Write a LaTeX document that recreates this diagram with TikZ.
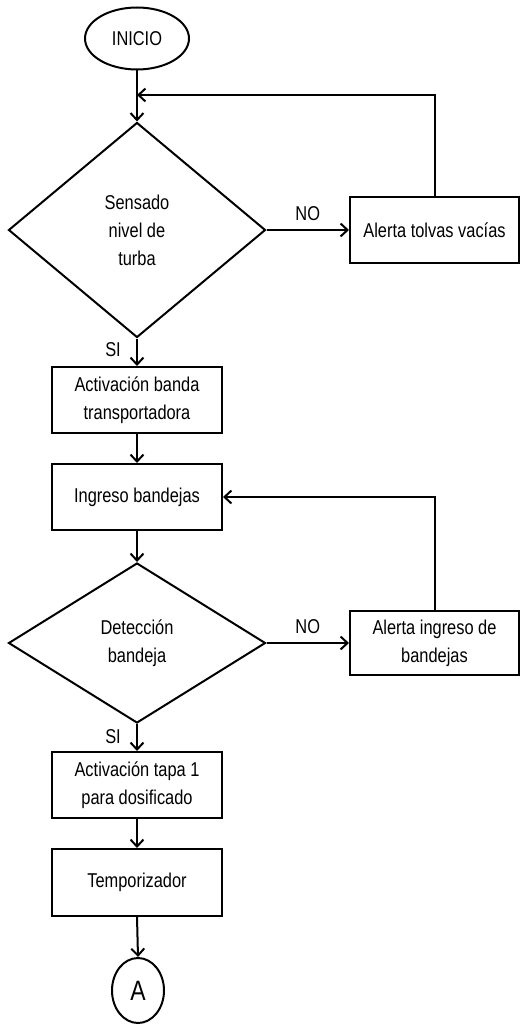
\documentclass[tikz,border=0pt]{standalone}
\usepackage{fontspec}
\setmainfont{Liberation Sans}[FakeStretch=0.82]
\usetikzlibrary{shapes.geometric,arrows.meta}
\begin{document}
\begin{tikzpicture}[x=1pt,y=-1pt,
  every node/.style={font=\fontsize{20}{28}\selectfont, align=center},
  procbox/.style={draw, line width=2pt, minimum width=170pt, minimum height=66pt, inner sep=2pt},
  decision/.style={draw, diamond, line width=2pt, inner sep=0pt},
  term/.style={draw, ellipse, line width=2pt, inner sep=0pt},
  flow/.style={line width=2pt, -{Straight Barb[length=7pt,width=13pt,line width=2pt]}},
  lbl/.style={inner sep=0pt}]
\useasboundingbox (0,0) rectangle (520,1025);
\node[term, minimum width=104pt, minimum height=62pt] (start) at (137,38.5) {INICIO};
\node[decision, minimum width=257pt, minimum height=215pt] (d1) at (137,230) {Sensado\\nivel de\\turba};
\node[procbox, minimum width=169pt] (a1) at (434.5,230) {Alerta tolvas vacías};
\node[procbox] (b1) at (137,400) {Activación banda\\transportadora};
\node[procbox] (b2) at (137,497) {Ingreso bandejas};
\node[decision, minimum width=257pt, minimum height=160pt] (d2) at (137,643) {Detección\\bandeja};
\node[procbox, minimum width=169pt, minimum height=64pt] (a2) at (434.5,643) {Alerta ingreso de\\bandejas};
\node[procbox] (b3) at (137,785) {Activación tapa 1\\para dosificado};
\node[procbox, minimum height=67pt] (b4) at (137,882.5) {Temporizador};
\node[term, minimum width=52pt, minimum height=65pt, font=\fontsize{28}{30}\selectfont] (endA) at (138,990.5) {A};
\coordinate (j1) at (137,95);
\draw[flow] (start) -- (d1);
\draw[flow] (a1.north) |- (j1);
\draw[flow] (d1.east) -- node[lbl, above=8pt] {NO} (a1.west);
\draw[flow] (d1.south) -- (b1.north);
\node[lbl] (si1) at (113,350) {SI};
\draw[flow] (b1) -- (b2);
\draw[flow] (a2.north) |- (b2.east);
\draw[flow] (b2) -- (d2);
\draw[flow] (d2.east) -- node[lbl, above=8pt] {NO} (a2.west);
\draw[flow] (d2.south) -- (b3.north);
\node[lbl] (si2) at (113,737) {SI};
\draw[flow] (b3) -- (b4);
\draw[flow] (b4.south) -- (endA.north);
\end{tikzpicture}
\end{document}
